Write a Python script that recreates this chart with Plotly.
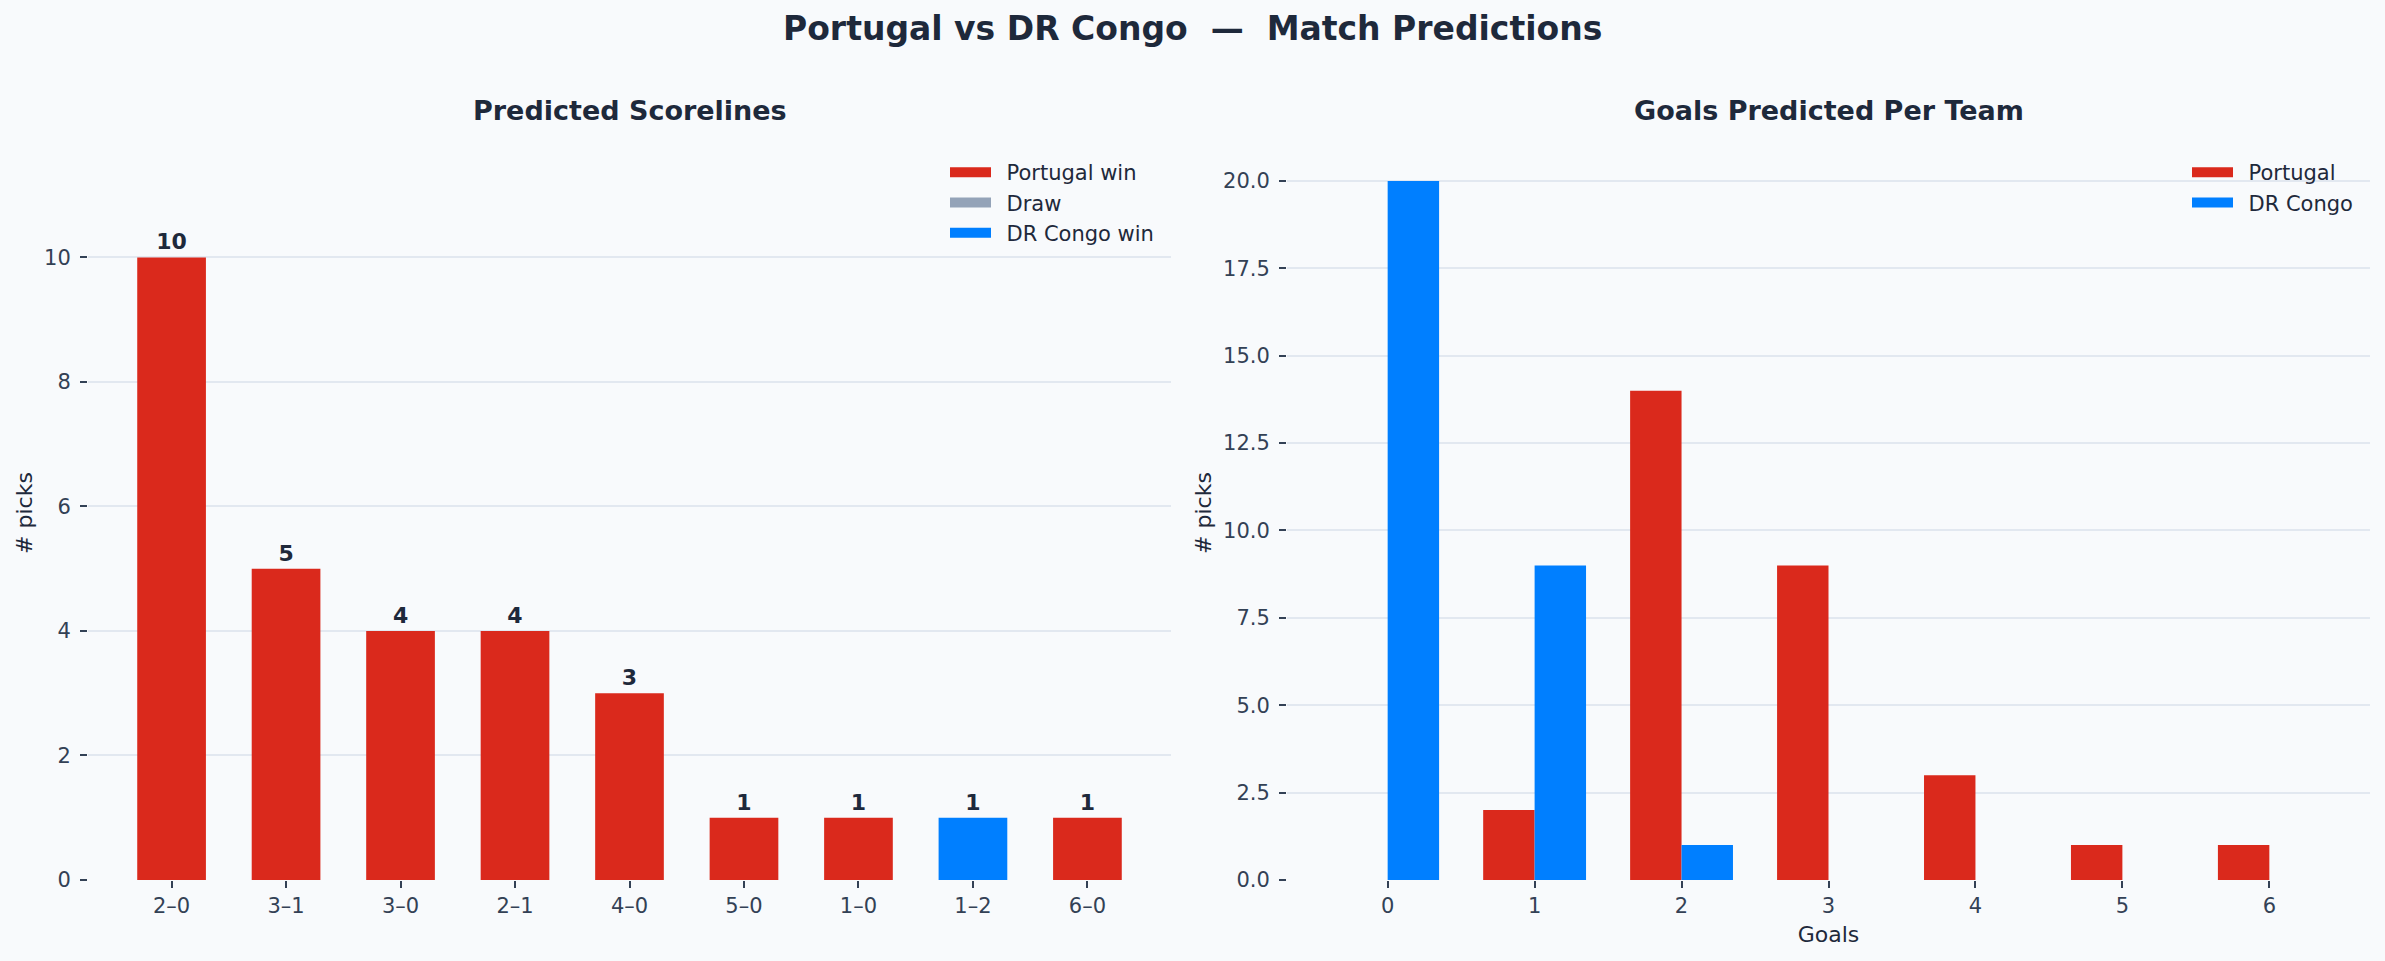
import plotly.graph_objects as go

# ---- data ----
scorelines = ["2–0", "3–1", "3–0", "2–1", "4–0", "5–0", "1–0", "1–2", "6–0"]
score_picks = [10, 5, 4, 4, 3, 1, 1, 1, 1]
score_outcome = ["Portugal win", "Portugal win", "Portugal win", "Portugal win", "Portugal win",
                 "Portugal win", "Portugal win", "DR Congo win", "Portugal win"]

goals = [0, 1, 2, 3, 4, 5, 6]
portugal_goals = [0, 2, 14, 9, 3, 1, 1]
congo_goals = [20, 9, 1, 0, 0, 0, 0]

outcome_names = ["Portugal win", "Draw", "DR Congo win"]
team_names = ["Portugal", "DR Congo"]

# ---- style ----
RED = "#DA291C"
GREY = "#94A3B8"
BLUE = "#007FFF"
BG = "#F8FAFC"
TXT = "#1E293B"
TICK = "#334155"
GRID = "#E2E8F0"
FONT = "DejaVu Sans"
outcome_colors = {"Portugal win": RED, "Draw": GREY, "DR Congo win": BLUE}
team_colors = {"Portugal": RED, "DR Congo": BLUE}

W, H = 2385, 961

def px_x(p):
    return p / W

def px_y(p):
    return 1 - p / H

fig = go.Figure()

fig.add_trace(go.Bar(
    x=scorelines, y=score_picks,
    marker=dict(color=[outcome_colors[o] for o in score_outcome], line=dict(width=0)),
    width=0.6,
    text=[str(v) for v in score_picks], textposition="outside",
    textfont=dict(family=FONT, size=22, color=TXT, weight="bold"),
    cliponaxis=False, showlegend=False, xaxis="x", yaxis="y",
))

fig.add_trace(go.Bar(
    x=goals, y=portugal_goals, width=0.35, offset=-0.35,
    marker=dict(color=RED, line=dict(width=0)),
    showlegend=False, xaxis="x2", yaxis="y2",
))
fig.add_trace(go.Bar(
    x=goals, y=congo_goals, width=0.35, offset=0.0,
    marker=dict(color=BLUE, line=dict(width=0)),
    showlegend=False, xaxis="x2", yaxis="y2",
))

# legend entries (swatch-like thick lines)
GAP = "\u2002"
for name in outcome_names:
    fig.add_trace(go.Scatter(
        x=[None], y=[None], mode="lines", name=GAP + name,
        line=dict(color=outcome_colors[name], width=14),
        xaxis="x", yaxis="y", legend="legend",
    ))
for name in team_names:
    fig.add_trace(go.Scatter(
        x=[None], y=[None], mode="lines", name=GAP + name,
        line=dict(color=team_colors[name], width=14),
        xaxis="x2", yaxis="y2", legend="legend2",
    ))

axis_common = dict(
    showline=False, zeroline=False, automargin=False,
    ticks="outside", ticklen=7, tickwidth=1.5, tickcolor=TICK,
    tickfont=dict(family=FONT, size=21, color=TICK),
)

yd = [px_y(880), px_y(146)]

fig.update_layout(
    width=W, height=H,
    paper_bgcolor=BG, plot_bgcolor=BG,
    margin=dict(l=0, r=0, t=0, b=0, pad=0),
    barmode="overlay",
    font=dict(family=FONT, color=TXT),
    xaxis=dict(domain=[px_x(88), px_x(1171)], range=[-0.73, 8.73], anchor="y",
               type="category", showgrid=False, **axis_common),
    yaxis=dict(domain=yd, range=[0, 11.79], anchor="x", dtick=2,
               showgrid=True, gridcolor=GRID, gridwidth=1.5, ticklabelstandoff=5,
               title=dict(text="# picks", font=dict(family=FONT, size=22, color=TXT), standoff=5),
               **axis_common),
    xaxis2=dict(domain=[px_x(1287), px_x(2370)], range=[-0.685, 6.685], anchor="y2",
                tickvals=goals, showgrid=False,
                title=dict(text="Goals", font=dict(family=FONT, size=22, color=TXT), standoff=9),
                **axis_common),
    yaxis2=dict(domain=yd, range=[0, 21], anchor="x2", dtick=2.5, tickformat=".1f",
                showgrid=True, gridcolor=GRID, gridwidth=1.5, ticklabelstandoff=5,
                title=dict(text="# picks", font=dict(family=FONT, size=22, color=TXT), standoff=5),
                **axis_common),
    legend=dict(x=px_x(1159), y=px_y(152), xanchor="right", yanchor="top",
                bgcolor="rgba(0,0,0,0)", font=dict(family=FONT, size=21, color=TXT),
                itemwidth=41, tracegroupgap=0),
    legend2=dict(x=px_x(2358), y=px_y(152), xanchor="right", yanchor="top",
                 bgcolor="rgba(0,0,0,0)", font=dict(family=FONT, size=21, color=TXT),
                 itemwidth=41, tracegroupgap=0),
    annotations=[
        dict(text="<b>Portugal vs DR Congo  —  Match Predictions</b>", x=0.5, y=px_y(29),
             xref="paper", yref="paper", xanchor="center", yanchor="middle", showarrow=False,
             font=dict(family=FONT, size=33, color=TXT)),
        dict(text="<b>Predicted Scorelines</b>", x=px_x(629.5), y=px_y(110),
             xref="paper", yref="paper", xanchor="center", yanchor="middle", showarrow=False,
             font=dict(family=FONT, size=27, color=TXT)),
        dict(text="<b>Goals Predicted Per Team</b>", x=px_x(1828.5), y=px_y(110),
             xref="paper", yref="paper", xanchor="center", yanchor="middle", showarrow=False,
             font=dict(family=FONT, size=27, color=TXT)),
    ],
)

fig.write_html("out.html")
